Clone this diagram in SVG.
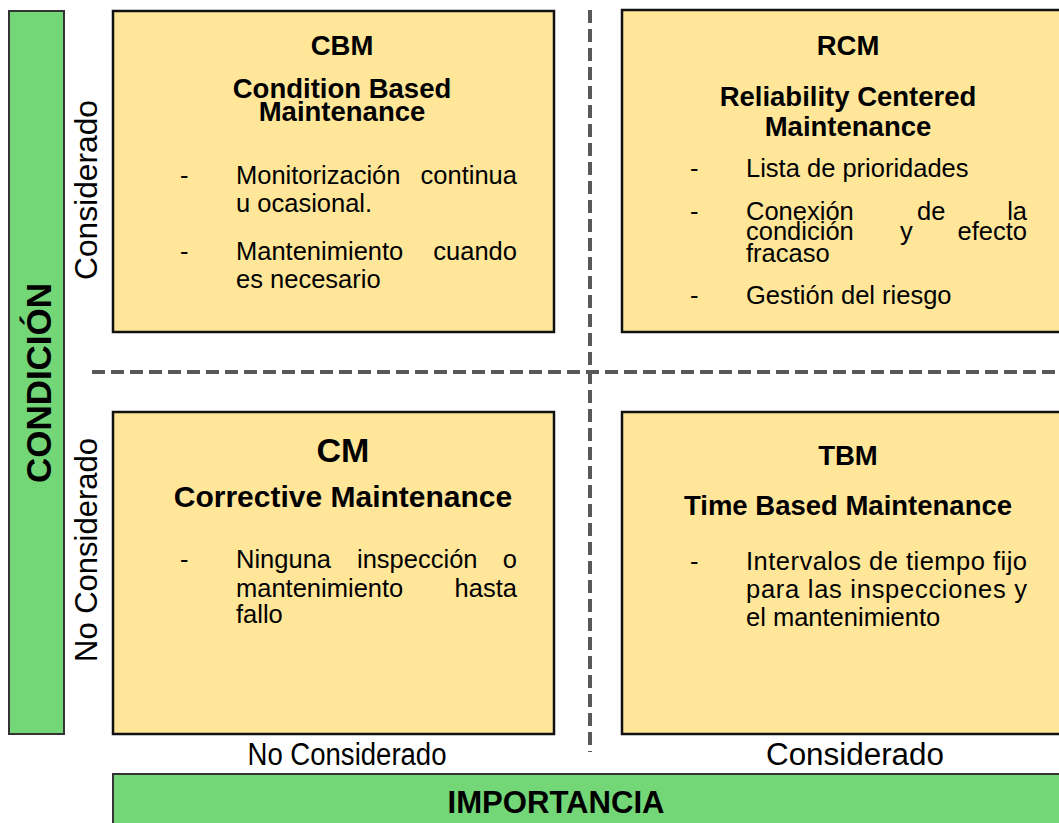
<svg xmlns="http://www.w3.org/2000/svg" width="1059" height="823" viewBox="0 0 1059 823">
<style>
text{font-family:"Liberation Sans",Arial,sans-serif;fill:#000}
.bar{fill:#73d677;stroke:#333;stroke-width:2}
.box{fill:#ffe699;stroke:#111;stroke-width:2.5}
.t{font-weight:bold;font-size:27.5px;text-anchor:middle}
.b{font-size:25.5px}
.e{font-size:25.5px;text-anchor:end}
.ax{font-size:31px;text-anchor:middle}
.dash{stroke:#595959;stroke-width:4;stroke-dasharray:13 6;fill:none}
</style>
<g id="connectors">
<line class="dash" x1="590" y1="10" x2="590" y2="752"/>
<line class="dash" x1="92" y1="372" x2="1059" y2="372"/>
</g>
<g id="condicion">
<rect class="bar" x="9" y="11" width="55" height="723"/>
<text transform="translate(51,383) rotate(-90)" font-weight="bold" font-size="35" text-anchor="middle" textLength="200" lengthAdjust="spacingAndGlyphs">CONDICIÓN</text>
</g>
<g id="importancia">
<rect class="bar" x="113" y="774" width="960" height="60"/>
<text x="556" y="813" font-weight="bold" font-size="31" text-anchor="middle" textLength="217" lengthAdjust="spacingAndGlyphs">IMPORTANCIA</text>
</g>
<g id="axis-labels">
<text class="ax" transform="translate(97,190) rotate(-90)" textLength="180" lengthAdjust="spacingAndGlyphs">Considerado</text>
<text class="ax" transform="translate(97,550) rotate(-90)" textLength="224" lengthAdjust="spacingAndGlyphs">No Considerado</text>
<text class="ax" x="347" y="765" textLength="199" lengthAdjust="spacingAndGlyphs">No Considerado</text>
<text class="ax" x="855" y="765" textLength="178" lengthAdjust="spacingAndGlyphs">Considerado</text>
</g>
<g id="cbm">
<rect class="box" x="113" y="11" width="441" height="321"/>
<text class="t" x="342" y="55">CBM</text>
<text class="t" x="342" y="98">Condition Based</text>
<text class="t" x="342" y="121">Maintenance</text>
<text class="b" x="180" y="184">-</text>
<text class="b" x="236" y="184">Monitorización</text>
<text class="e" x="517" y="184">continua</text>
<text class="b" x="236" y="212">u ocasional.</text>
<text class="b" x="180" y="260">-</text>
<text class="b" x="236" y="260">Mantenimiento</text>
<text class="e" x="517" y="260">cuando</text>
<text class="b" x="236" y="288">es necesario</text>
</g>
<g id="rcm">
<rect class="box" x="622" y="10" width="460" height="322"/>
<text class="t" x="848" y="55">RCM</text>
<text class="t" x="848" y="106">Reliability Centered</text>
<text class="t" x="848" y="136">Maintenance</text>
<text class="b" x="690" y="177">-</text>
<text class="b" x="746" y="177">Lista de prioridades</text>
<text class="b" x="690" y="220">-</text>
<text class="b" x="746" y="220">Conexión</text>
<text class="b" x="917" y="220">de</text>
<text class="e" x="1027" y="220">la</text>
<text class="b" x="746" y="240">condición</text>
<text class="b" x="900" y="240">y</text>
<text class="e" x="1027" y="240">efecto</text>
<text class="b" x="746" y="262">fracaso</text>
<text class="b" x="690" y="304">-</text>
<text class="b" x="746" y="304">Gestión del riesgo</text>
</g>
<g id="cm">
<rect class="box" x="113" y="412" width="441" height="322"/>
<text class="t" x="343" y="462" style="font-size:34px">CM</text>
<text class="t" x="343" y="507" style="font-size:30px">Corrective Maintenance</text>
<text class="b" x="180" y="568">-</text>
<text class="b" x="236" y="568">Ninguna</text>
<text class="b" x="357" y="568">inspección</text>
<text class="e" x="517" y="568">o</text>
<text class="b" x="236" y="597">mantenimiento</text>
<text class="e" x="517" y="597">hasta</text>
<text class="b" x="236" y="623">fallo</text>
</g>
<g id="tbm">
<rect class="box" x="622" y="412" width="460" height="322"/>
<text class="t" x="848" y="465">TBM</text>
<text class="t" x="848" y="515">Time Based Maintenance</text>
<text class="b" x="690" y="570">-</text>
<text class="b" x="746" y="570" textLength="281" lengthAdjust="spacing">Intervalos de tiempo fijo</text>
<text class="b" x="746" y="598" textLength="281" lengthAdjust="spacing">para las inspecciones y</text>
<text class="b" x="746" y="626">el mantenimiento</text>
</g>
</svg>
